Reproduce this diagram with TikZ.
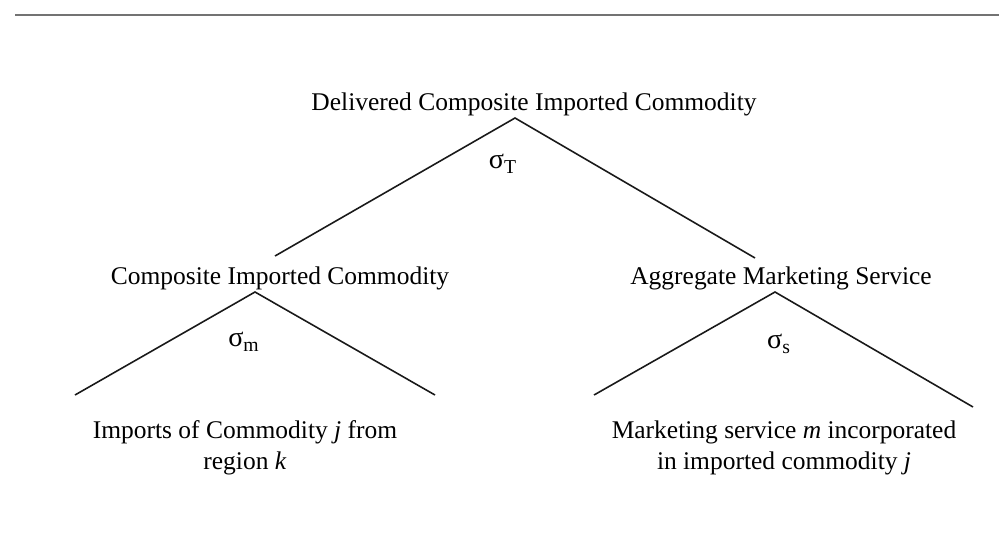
\documentclass[tikz,border=0pt]{standalone}
\usepackage{fontspec}
\setmainfont{Liberation Serif}
\usetikzlibrary{positioning}
\tikzset{%
	level/.style={inner sep=0pt, font=\fontsize{14.5}{17.6}\selectfont, align=center},
	elast/.style={inner sep=0pt, font=\fontsize{16}{17}\selectfont},
	branch/.style={line width=0.9pt, black!90},
	rule/.style={line width=1.5pt, black!55}
}

\begin{document}
\begin{tikzpicture}[x=0.02cm, y=-0.02cm]
	\useasboundingbox (0,0) rectangle (999,534);
	% top rule
	\coordinate (r1) at (15,15);
	\coordinate (r2) at (999,15);
	\draw[rule] (r1) -- (r2);

	% labels of the nest
	\node[level] (top)   at (534,104) {Delivered Composite Imported Commodity};
	\node[level] (cim)   at (280,278) {Composite Imported Commodity};
	\node[level] (ams)   at (781,278) {Aggregate Marketing Service};
	\node[level] (imp)   at (245,448) {Imports of Commodity \textit{j} from\\region \textit{k}};
	\node[level] (mkt)   at (784,448) {Marketing service \textit{m} incorporated\\in imported commodity \textit{j}};

	% elasticities
	\node[elast] (sT) at (503,164) {σ\textsubscript{T}};
	\node[elast] (sm) at (244,342) {σ\textsubscript{m}};
	\node[elast] (ss) at (779,344) {σ\textsubscript{s}};

	% branch points
	\coordinate (a1)  at (515,118);
	\coordinate (a1l) at (275,256);
	\coordinate (a1r) at (755,258);
	\coordinate (a2)  at (255,292);
	\coordinate (a2l) at (75,395);
	\coordinate (a2r) at (435,395);
	\coordinate (a3)  at (775,292);
	\coordinate (a3l) at (594,395);
	\coordinate (a3r) at (973,407);

	\draw[branch] (a1l) -- (a1) -- (a1r);
	\draw[branch] (a2l) -- (a2) -- (a2r);
	\draw[branch] (a3l) -- (a3) -- (a3r);
\end{tikzpicture}
\end{document}
